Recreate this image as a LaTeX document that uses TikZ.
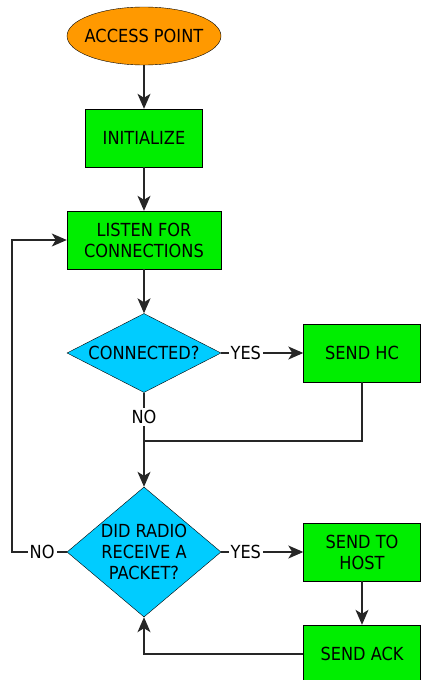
\documentclass[tikz,border=0pt]{standalone}
\usepackage{fontspec}
\setmainfont{DejaVu Sans Condensed}
\usetikzlibrary{shapes.geometric,arrows.meta}
\definecolor{startorange}{RGB}{255,153,0}
\definecolor{boxgreen}{RGB}{0,238,0}
\definecolor{askcyan}{RGB}{0,204,255}

\begin{document}
\begin{tikzpicture}[x=1pt, y=-1pt, font=\fontsize{18}{21}\selectfont,
		start_style/.style={ellipse,draw=black,fill=startorange,minimum width=154,minimum height=58,inner xsep=-20pt,inner ysep=0pt},
		box_style/.style={rectangle,draw=black,fill=boxgreen,minimum width=117,minimum height=58,inner sep=0pt,align=center},
		ask_style/.style={diamond,draw=black,fill=askcyan,inner xsep=-7pt,inner ysep=-5pt,align=center},
		label_style/.style={fill=white,inner sep=2pt},
		line_style/.style={draw=black!85,line width=1.3pt},
		edge_style/.style={line_style,-{Stealth[length=15pt,width=13pt,inset=4pt]}}]

		\useasboundingbox (0,0) rectangle (422,680);

		\node[start_style] (n0) at (144,36)  {ACCESS POINT};
		\node[box_style,minimum width=117] (n1) at (144,138)  {INITIALIZE};
		\node[box_style,minimum width=154] (n2) at (144,240)  {LISTEN FOR\\CONNECTIONS};
		\node[ask_style,minimum width=154,minimum height=79,aspect=1.95] (n3) at (144,353)  {CONNECTED?};
		\node[box_style] (n4) at (362,353)  {SEND HC};
		\node[ask_style,minimum width=154,minimum height=130,aspect=1.18] (n5) at (144,552)  {DID RADIO\\RECEIVE A\\PACKET?};
		\node[box_style] (n6) at (362,552)  {SEND TO\\HOST};
		\node[box_style] (n7) at (362,654)  {SEND ACK};
		\coordinate (j1) at (144,441);
		\coordinate (c1) at (12,552);

		\draw[edge_style]  (n0) -- (n1);
		\draw[edge_style]  (n1) -- (n2);
		\draw[edge_style]  (n2) -- (n3);
		\draw[edge_style]  (n3) -- node[label_style,pos=0.3]{YES} (n4);
		\draw[line_style]  (n3) -- node[label_style]{NO} (j1);
		\draw[line_style]  (n4) |- (j1);
		\draw[edge_style]  (j1) -- (n5);
		\draw[edge_style]  (n5) -- node[label_style,pos=0.3]{YES} (n6);
		\draw[edge_style]  (n6) -- (n7);
		\draw[edge_style]  (n7) -| (n5);
		\draw[edge_style]  (n5) -- node[label_style,pos=0.45]{NO} (c1) |- (n2);
\end{tikzpicture}
\end{document}
